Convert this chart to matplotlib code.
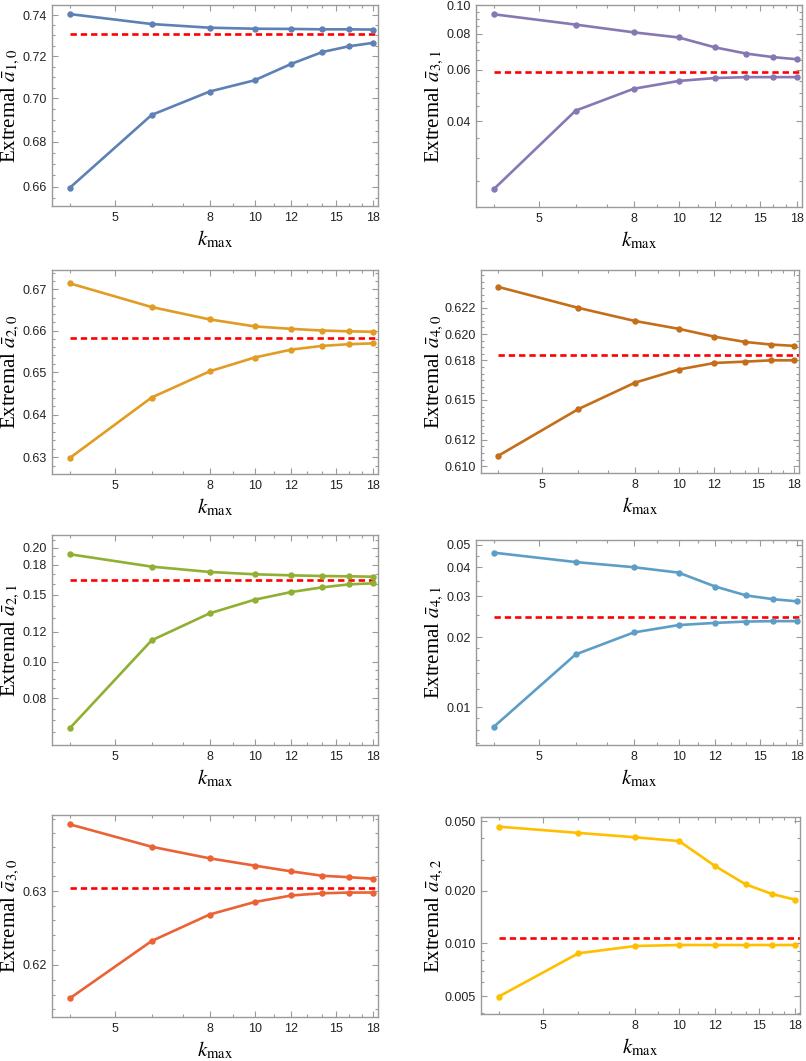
import matplotlib
matplotlib.use("Agg")
import matplotlib.pyplot as plt
from matplotlib.ticker import FixedLocator, FixedFormatter, NullFormatter

plt.rcParams['mathtext.fontset'] = 'stix'

# ---------------- data ----------------
k_max = [4, 6, 8, 10, 12, 14, 16, 18]

a10_upper = [0.7405, 0.7356, 0.7338, 0.7333, 0.7332, 0.7330, 0.7330, 0.7329]
a10_lower = [0.6595, 0.6923, 0.7032, 0.7085, 0.7163, 0.7220, 0.7248, 0.7264]
a10_ref = 0.7308

a31_upper = [0.0932, 0.0859, 0.0808, 0.0776, 0.0717, 0.0683, 0.0664, 0.0653]
a31_lower = [0.0234, 0.0435, 0.0517, 0.0550, 0.0563, 0.0567, 0.0567, 0.0567]
a31_ref = 0.0591

a20_upper = [0.6715, 0.6657, 0.6627, 0.6610, 0.6604, 0.6600, 0.6598, 0.6597]
a20_lower = [0.6299, 0.6440, 0.6502, 0.6535, 0.6554, 0.6563, 0.6567, 0.6569]
a20_ref = 0.6581

a40_upper = [0.6236, 0.6220, 0.6210, 0.6204, 0.6198, 0.6194, 0.6192, 0.6191]
a40_lower = [0.6108, 0.6143, 0.6163, 0.6173, 0.6178, 0.6179, 0.6180, 0.6180]
a40_ref = 0.6184

a21_upper = [0.1921, 0.1782, 0.1725, 0.1701, 0.1690, 0.1683, 0.1680, 0.1676]
a21_lower = [0.0667, 0.1138, 0.1341, 0.1457, 0.1527, 0.1571, 0.1600, 0.1610]
a21_ref = 0.1640

a41_upper = [0.0463, 0.0422, 0.0401, 0.0380, 0.0331, 0.0303, 0.0292, 0.0286]
a41_lower = [0.00826, 0.0169, 0.0210, 0.0226, 0.0231, 0.0234, 0.0235, 0.0235]
a41_ref = 0.0244

a30_upper = [0.6392, 0.6361, 0.6345, 0.6335, 0.6327, 0.6321, 0.6319, 0.6317]
a30_lower = [0.6155, 0.6232, 0.6268, 0.6285, 0.6294, 0.6297, 0.6298, 0.6298]
a30_ref = 0.6304

a42_upper = [0.0466, 0.0429, 0.0405, 0.0385, 0.0277, 0.0218, 0.0192, 0.0178]
a42_lower = [0.00496, 0.00879, 0.00967, 0.0098, 0.0098, 0.0098, 0.0098, 0.0098]
a42_ref = 0.01074

x_ticks = [5, 8, 10, 12, 15, 18]
x_tick_labels = ['5', '8', '10', '12', '15', '18']

a10_ticks = [0.66, 0.68, 0.70, 0.72, 0.74]
a10_labels = ['0.66', '0.68', '0.70', '0.72', '0.74']
a31_ticks = [0.04, 0.06, 0.08, 0.10]
a31_labels = ['0.04', '0.06', '0.08', '0.10']
a20_ticks = [0.63, 0.64, 0.65, 0.66, 0.67]
a20_labels = ['0.63', '0.64', '0.65', '0.66', '0.67']
a40_ticks = [0.610, 0.612, 0.615, 0.618, 0.620, 0.622]
a40_labels = ['0.610', '0.612', '0.615', '0.618', '0.620', '0.622']
a21_ticks = [0.08, 0.10, 0.12, 0.15, 0.18, 0.20]
a21_labels = ['0.08', '0.10', '0.12', '0.15', '0.18', '0.20']
a41_ticks = [0.01, 0.02, 0.03, 0.04, 0.05]
a41_labels = ['0.01', '0.02', '0.03', '0.04', '0.05']
a30_ticks = [0.62, 0.63]
a30_labels = ['0.62', '0.63']
a42_ticks = [0.005, 0.010, 0.020, 0.050]
a42_labels = ['0.005', '0.010', '0.020', '0.050']

# ---------------- layout / style ----------------
W, H = 806, 1061
fig = plt.figure(figsize=(W / 100, H / 100), dpi=100)

frame_col = '#9a9a9a'
ref_col = '#ff0000'

panels = [
    # (upper, lower, ref, color, label, ticks, labels, minor, ylim, rect(l,t,r,b), ylabel_x)
    (a10_upper, a10_lower, a10_ref, '#5E81B5', r'$\bar{a}_{1,0}$', a10_ticks, a10_labels,
     [0.655 + 0.005 * i for i in range(19)], (0.6515, 0.7450), (52, 5, 378, 206), 11),
    (a31_upper, a31_lower, a31_ref, '#8778B3', r'$\bar{a}_{3,1}$', a31_ticks, a31_labels,
     [0.025, 0.03, 0.035, 0.045, 0.05, 0.055, 0.065, 0.07, 0.075, 0.085, 0.09, 0.095],
     (0.0203, 0.1003), (476, 5, 802, 207), 435),
    (a20_upper, a20_lower, a20_ref, '#E19C24', r'$\bar{a}_{2,0}$', a20_ticks, a20_labels,
     [0.626 + 0.002 * i for i in range(25)], (0.6262, 0.6748), (52, 270, 378, 474), 11),
    (a40_upper, a40_lower, a40_ref, '#C56E1A', r'$\bar{a}_{4,0}$', a40_ticks, a40_labels,
     [0.6095 + 0.0005 * i for i in range(31)], (0.6095, 0.6249), (481, 270, 799, 473), 435),
    (a21_upper, a21_lower, a21_ref, '#8FB032', r'$\bar{a}_{2,1}$', a21_ticks, a21_labels,
     [0.065, 0.07, 0.075, 0.085, 0.09, 0.095, 0.11, 0.13, 0.14, 0.16, 0.17, 0.19, 0.21],
     (0.0602, 0.2160), (52, 535, 378, 745), 11),
    (a41_upper, a41_lower, a41_ref, '#5D9EC7', r'$\bar{a}_{4,1}$', a41_ticks, a41_labels,
     [0.007, 0.008, 0.009, 0.012, 0.014, 0.016, 0.018, 0.025, 0.035, 0.045],
     (0.00689, 0.0525), (476, 540, 802, 745), 435),
    (a30_upper, a30_lower, a30_ref, '#EB6235', r'$\bar{a}_{3,0}$', a30_ticks, a30_labels,
     [0.614 + 0.002 * i for i in range(14)], (0.6130, 0.6405), (52, 815, 378, 1017), 11),
    (a42_upper, a42_lower, a42_ref, '#FFBF00', r'$\bar{a}_{4,2}$', a42_ticks, a42_labels,
     [0.004, 0.006, 0.007, 0.008, 0.009, 0.03, 0.04],
     (0.00395, 0.0529), (481, 817, 800, 1014), 435),
]

x_minor = [4, 6, 7, 9, 11, 13, 14, 16, 17]
xlim = (3.66, 18.45)

for (up, lo, ref, col, lab, yt, ytl, ymin, ylim, rect, ylx) in panels:
    l, t, r, b = rect
    ax = fig.add_axes([l / W, 1 - b / H, (r - l) / W, (b - t) / H])
    ax.set_xscale('log')
    ax.set_yscale('log')
    ax.plot(k_max, up, '-o', color=col, lw=1.9, ms=3.6, zorder=3)
    ax.plot(k_max, lo, '-o', color=col, lw=1.9, ms=3.6, zorder=3)
    ax.plot([k_max[0], xlim[1]], [ref, ref], color=ref_col, lw=1.9,
            dashes=(2.4, 1.5), zorder=2)
    ax.set_xlim(*xlim)
    ax.set_ylim(*ylim)
    ax.xaxis.set_major_locator(FixedLocator(x_ticks))
    ax.xaxis.set_major_formatter(FixedFormatter(x_tick_labels))
    ax.xaxis.set_minor_locator(FixedLocator(x_minor))
    ax.xaxis.set_minor_formatter(NullFormatter())
    ax.yaxis.set_major_locator(FixedLocator(yt))
    ax.yaxis.set_major_formatter(FixedFormatter(ytl))
    ax.yaxis.set_minor_locator(FixedLocator([m for m in ymin if ylim[0] < m < ylim[1]]))
    ax.yaxis.set_minor_formatter(NullFormatter())
    ax.tick_params(which='both', direction='in', top=True, right=True,
                   color=frame_col, width=0.8)
    ax.tick_params(which='major', length=4.5, labelsize=9, pad=4,
                   labelcolor='#222222')
    ax.tick_params(which='minor', length=2.5)
    for lbl in ax.get_xticklabels() + ax.get_yticklabels():
        lbl.set_family(['Liberation Sans', 'DejaVu Sans'])
    for s in ax.spines.values():
        s.set_color(frame_col)
        s.set_linewidth(1.0)
    # labels
    fig.text((l + r) / 2 / W, 1 - (b + 33) / H, r'$k_{\mathrm{max}}$',
             ha='center', va='center', fontsize=15)
    fig.text(ylx / W, 1 - (t + b) / 2 / H, 'Extremal ' + lab,
             ha='center', va='center', rotation=90, fontsize=15,
             family=['Liberation Serif', 'DejaVu Serif'])

fig.savefig('out.png', dpi=100)
